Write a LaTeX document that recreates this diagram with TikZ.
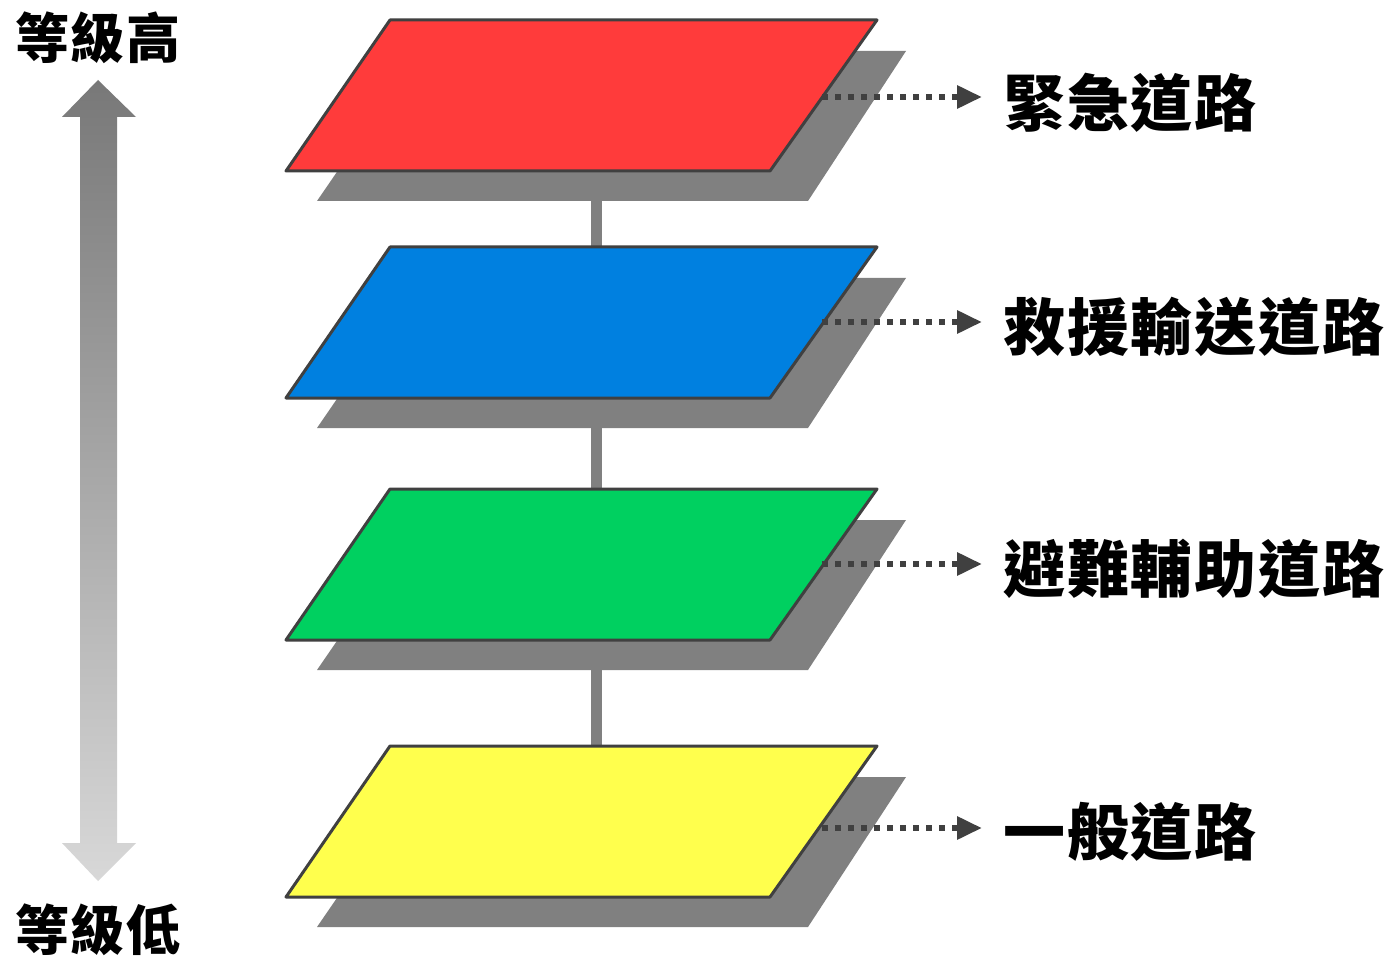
\documentclass[tikz,border=0pt]{standalone}
\usepackage{fontspec}
\newfontfamily\cjk{Noto Sans CJK TC}
\newfontfamily\cjkwide[LetterSpace=3]{Noto Sans CJK TC}
\usetikzlibrary{arrows.meta}
\definecolor{edge}{HTML}{404040}
\definecolor{shadowgray}{HTML}{808080}
\definecolor{planered}{HTML}{FF3B3B}
\definecolor{planeblue}{HTML}{0080E0}
\definecolor{planegreen}{HTML}{00D060}
\definecolor{planeyellow}{HTML}{FFFF4D}
\definecolor{arrtop}{HTML}{787878}
\definecolor{arrbot}{HTML}{D8D8D8}
\tikzset{
  plane/.style={draw=edge, line width=3pt, line join=round},
  planeshadow/.style={fill=shadowgray},
  leader/.style={draw=edge, line width=6pt, dash pattern=on 6pt off 7pt, -{Triangle[length=25pt,width=22pt,sep=0pt]}},
  roadlabel/.style={anchor=west, font=\cjkwide\bfseries\fontsize{62}{62}\selectfont, inner sep=0pt},
  sidelabel/.style={font=\cjkwide\bfseries\fontsize{54}{54}\selectfont, inner sep=0pt}
}
\begin{document}
\begin{tikzpicture}[x=1pt,y=-1pt]
\useasboundingbox (0,0) rectangle (1385,960);
\fill[white] (0,0) rectangle (1385,960);
% level arrow
\shade[top color=arrtop, bottom color=arrbot]
  (98,80) -- (136,117) -- (117,117) -- (117,843) -- (136,843) -- (98,881)
  -- (62,843) -- (80,843) -- (80,117) -- (62,117) -- cycle;
\node[sidelabel] (high) at (98,38) {等級高};
\node[sidelabel] (low) at (98,930) {等級低};
% spine
\draw[shadowgray, line width=11pt] (596,171) -- (596,746);
% planes
\foreach \t/\c/\n in {20/planered/red, 247/planeblue/blue, 489/planegreen/green, 746/planeyellow/yellow}{
  \fill[planeshadow] (420,{\t+31}) -- (906,{\t+31}) -- (808,{\t+181}) -- (317,{\t+181}) -- cycle;
  \draw[plane, fill=\c] (390,\t) -- (877,\t) -- (770,{\t+151}) -- (286,{\t+151}) -- cycle;
}
% labels
\node[roadlabel] (l1) at (1003,103) {緊急道路};
\node[roadlabel] (l2) at (1003,327) {救援輸送道路};
\node[roadlabel] (l3) at (1003,569) {避難輔助道路};
\node[roadlabel] (l4) at (1003,832) {一般道路};
\coordinate (s1) at (822,97);
\coordinate (s2) at (822,322);
\coordinate (s3) at (822,564);
\coordinate (s4) at (822,828);
\coordinate (e1) at (982,97);
\coordinate (e2) at (982,322);
\coordinate (e3) at (982,564);
\coordinate (e4) at (982,828);
\foreach \i in {1,2,3,4}{
  \draw[leader] (s\i) -- (e\i);
}
\end{tikzpicture}
\end{document}
